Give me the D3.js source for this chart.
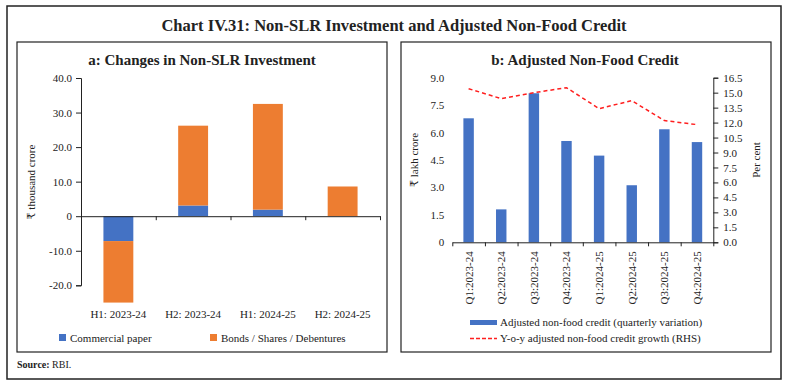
<!DOCTYPE html>
<html>
<head>
<meta charset="utf-8">
<script src="https://cdn.jsdelivr.net/npm/d3@7"></script>
<style>
  body { margin: 0; background: #fff; }
  text { font-family: "Liberation Serif", "DejaVu Serif", serif; fill: #222; }
</style>
</head>
<body>
<div id="chart"></div>
<script>
// panel a data
const halfYears = ["H1: 2023-24", "H2: 2023-24", "H1: 2024-25", "H2: 2024-25"]
const commercialPaper = [-7.2, 3.1, 1.9, 0]
const bondsSharesDebentures = [-17.8, 23.1, 30.6, 8.6]
const leftTicksA = [-20, -10, 0, 10, 20, 30, 40]

// panel b data
const quarters = ["Q1:2023-24", "Q2:2023-24", "Q3:2023-24", "Q4:2023-24",
  "Q1:2024-25", "Q2:2024-25", "Q3:2024-25", "Q4:2024-25"]
const nonFoodCredit = [6.78, 1.80, 8.15, 5.54, 4.74, 3.12, 6.18, 5.48]
const yoyGrowth = [15.4, 14.4, 15.0, 15.5, 13.4, 14.2, 12.2, 11.8]
const leftTicksB = [0, 1.5, 3, 4.5, 6, 7.5, 9]
const rightTicksB = [0, 1.5, 3, 4.5, 6, 7.5, 9, 10.5, 12, 13.5, 15, 16.5]

const blue = "#4472C4"
const orange = "#ED7D31"
const red = "#FF1F1F"

const W = 787, H = 387

const svg = d3.select("#chart").append("svg")
  .attr("width", W)
  .attr("height", H)

svg.append("rect").attr("width", W).attr("height", H).attr("fill", "#fff")

// frames
svg.append("rect")
  .attr("x", 7).attr("y", 6).attr("width", 774).attr("height", 373)
  .attr("fill", "none").attr("stroke", "#222").attr("stroke-width", 1.5)
svg.append("rect")
  .attr("x", 17).attr("y", 42).attr("width", 370).attr("height", 310)
  .attr("fill", "none").attr("stroke", "#222").attr("stroke-width", 1.2)
svg.append("rect")
  .attr("x", 401).attr("y", 42).attr("width", 370).attr("height", 310)
  .attr("fill", "none").attr("stroke", "#222").attr("stroke-width", 1.2)

svg.append("text")
  .attr("x", 394).attr("y", 31)
  .attr("text-anchor", "middle")
  .style("font-size", "16.5px").style("font-weight", "bold")
  .text("Chart IV.31: Non-SLR Investment and Adjusted Non-Food Credit")

svg.append("text")
  .attr("x", 17).attr("y", 368)
  .style("font-size", "10px")
  .html('<tspan font-weight="bold">Source:</tspan> RBI.')

const fmt = d => d === 0 ? "0" : d.toFixed(1)

function styleAxis(g) {
  g.select(".domain").attr("stroke", "#222")
  g.selectAll(".tick line").attr("stroke", "#222")
  g.selectAll(".tick text")
    .style("font-family", "Liberation Serif, serif")
    .style("font-size", "11px")
    .attr("fill", "#333")
}

// ---------- panel a ----------
function drawPanelA() {
  const x0 = 81, x1 = 380, yTop = 78, yBot = 285.3
  const g = svg.append("g")

  g.append("text")
    .attr("x", 202).attr("y", 65)
    .attr("text-anchor", "middle")
    .style("font-size", "15px").style("font-weight", "bold")
    .text("a: Changes in Non-SLR Investment")

  const y = d3.scaleLinear().domain([-20, 40]).range([yBot, yTop])
  const x = d3.scaleBand().domain(halfYears).range([x0, x1])
  const xEdges = d3.scaleLinear().domain([0, halfYears.length]).range([x0, x1])

  const rows = halfYears.map((h, i) => ({
    cat: h, cp: commercialPaper[i], bonds: bondsSharesDebentures[i]
  }))
  const series = d3.stack()
    .keys(["cp", "bonds"])
    .offset(d3.stackOffsetDiverging)(rows)
  const colors = { cp: blue, bonds: orange }
  const bw = x.bandwidth() * 0.4

  series.forEach(s => {
    g.append("g").selectAll("rect")
      .data(s)
      .join("rect")
      .attr("x", d => x(d.data.cat) + (x.bandwidth() - bw) / 2)
      .attr("width", bw)
      .attr("y", d => y(Math.max(d[0], d[1])))
      .attr("height", d => Math.abs(y(d[0]) - y(d[1])))
      .attr("fill", colors[s.key])
  })

  g.append("g")
    .attr("transform", `translate(${x0},0)`)
    .call(d3.axisLeft(y).tickValues(leftTicksA).tickFormat(fmt).tickSizeOuter(0).tickSize(5).tickPadding(4))
    .call(styleAxis)

  g.append("g")
    .attr("transform", `translate(0,${y(0)})`)
    .call(d3.axisBottom(xEdges).tickValues(d3.range(1, halfYears.length + 1)).tickFormat("").tickSize(4).tickSizeOuter(0))
    .call(styleAxis)

  g.append("g").selectAll("text")
    .data(halfYears)
    .join("text")
    .attr("x", d => x(d) + x.bandwidth() / 2)
    .attr("y", 318)
    .attr("text-anchor", "middle")
    .style("font-size", "11px")
    .text(d => d)

  g.append("text")
    .attr("transform", "translate(35,182) rotate(-90)")
    .attr("text-anchor", "middle")
    .style("font-size", "11px")
    .text("₹ thousand crore")

  const legend = [
    { label: "Commercial paper", color: blue, x: 59 },
    { label: "Bonds / Shares / Debentures", color: orange, x: 210 }
  ]
  const lg = g.append("g").selectAll("g").data(legend).join("g")
    .attr("transform", d => `translate(${d.x},334)`)
  lg.append("rect").attr("width", 7).attr("height", 7).attr("fill", d => d.color)
  lg.append("text").attr("x", 11).attr("y", 7.5).style("font-size", "11px").text(d => d.label)
}

// ---------- panel b ----------
function drawPanelB() {
  const x0 = 452.3, x1 = 713.3, yTop = 77.7, yBot = 242.3
  const g = svg.append("g")

  g.append("text")
    .attr("x", 585).attr("y", 65)
    .attr("text-anchor", "middle")
    .style("font-size", "15px").style("font-weight", "bold")
    .text("b: Adjusted Non-Food Credit")

  const yL = d3.scaleLinear().domain([0, 9]).range([yBot, yTop])
  const yR = d3.scaleLinear().domain([0, 16.5]).range([yBot, yTop])
  const x = d3.scaleBand().domain(quarters).range([x0, x1])
  const xEdges = d3.scaleLinear().domain([0, quarters.length]).range([x0, x1])
  const bw = x.bandwidth() * 0.32

  g.append("g").selectAll("rect")
    .data(nonFoodCredit)
    .join("rect")
    .attr("x", (d, i) => x(quarters[i]) + (x.bandwidth() - bw) / 2)
    .attr("width", bw)
    .attr("y", d => yL(d))
    .attr("height", d => yL(0) - yL(d))
    .attr("fill", blue)

  const line = d3.line()
    .x((d, i) => x(quarters[i]) + x.bandwidth() / 2)
    .y(d => yR(d))
  g.append("path")
    .datum(yoyGrowth)
    .attr("d", line)
    .attr("fill", "none")
    .attr("stroke", red)
    .attr("stroke-width", 1.5)
    .attr("stroke-dasharray", "4,3")

  g.append("g")
    .attr("transform", `translate(${x0},0)`)
    .call(d3.axisLeft(yL).tickValues(leftTicksB).tickFormat(fmt).tickSizeOuter(0).tickSize(0).tickPadding(8))
    .call(styleAxis)
    .call(a => a.select(".domain").remove())

  g.append("g")
    .attr("transform", `translate(${x1},0)`)
    .call(d3.axisRight(yR).tickValues(rightTicksB).tickFormat(d => d.toFixed(1)).tickSizeOuter(0).tickSize(5).tickPadding(5))
    .call(styleAxis)

  g.append("g")
    .attr("transform", `translate(0,${yBot})`)
    .call(d3.axisBottom(xEdges).tickValues(d3.range(0, quarters.length + 1)).tickFormat("").tickSize(4).tickSizeOuter(0))
    .call(styleAxis)

  g.append("g").selectAll("text")
    .data(quarters)
    .join("text")
    .attr("transform", d => `translate(${x(d) + x.bandwidth() / 2 + 4},${yBot + 9}) rotate(-90)`)
    .attr("text-anchor", "end")
    .style("font-size", "11px")
    .text(d => d)

  g.append("text")
    .attr("transform", "translate(418,160) rotate(-90)")
    .attr("text-anchor", "middle")
    .style("font-size", "11px")
    .text("₹ lakh crore")

  g.append("text")
    .attr("transform", "translate(760,160) rotate(-90)")
    .attr("text-anchor", "middle")
    .style("font-size", "11px")
    .text("Per cent")

  const lg = g.append("g")
  lg.append("rect").attr("x", 470).attr("y", 320).attr("width", 27).attr("height", 5).attr("fill", blue)
  lg.append("text").attr("x", 500).attr("y", 326).style("font-size", "11px")
    .text("Adjusted non-food credit (quarterly variation)")
  lg.append("line").attr("x1", 470).attr("x2", 497).attr("y1", 338.5).attr("y2", 338.5)
    .attr("stroke", red).attr("stroke-width", 1.5).attr("stroke-dasharray", "4,2")
  lg.append("text").attr("x", 500).attr("y", 342).style("font-size", "11px")
    .text("Y-o-y adjusted non-food credit growth (RHS)")
}

drawPanelA()
drawPanelB()
</script>
</body>
</html>
